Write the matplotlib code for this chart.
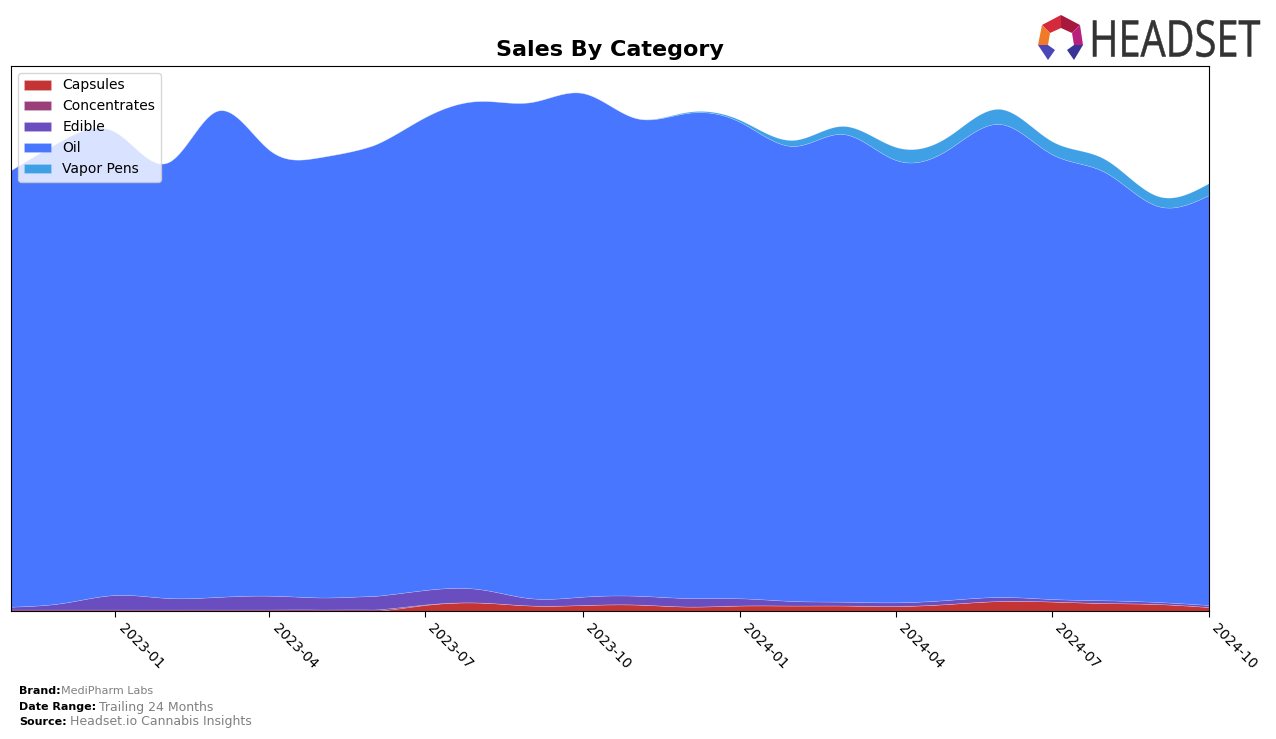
import numpy as np
import pandas as pd
import matplotlib
matplotlib.use("Agg")
import matplotlib.pyplot as plt
import matplotlib.dates as mdates
from matplotlib.textpath import TextPath
from matplotlib.patches import PathPatch, Polygon
from matplotlib.font_manager import FontProperties
from matplotlib.transforms import Affine2D

# ---------------- data ----------------
months = pd.date_range("2022-11-01", "2024-10-01", freq="MS")
categories = ["Capsules", "Concentrates", "Edible", "Oil", "Vapor Pens"]
colors = ["#C43434", "#9B3F7B", "#6A4DBE", "#4876FF", "#3FA0E6"]

capsules = [0, 0, 0, 0, 0, 0, 0, 0, 6, 8.5, 5.5, 6, 6.5, 4.5, 5.5, 5.5, 5.5, 5, 7, 10, 9.5, 8, 7, 4]
concentrates = [1.5, 1.5, 1.5, 1.5, 1.5, 1.5, 1.5, 1.5, 0.5, 0, 0, 0, 0, 0, 0, 0, 0, 0, 0, 0, 0, 0, 0, 0]
edible = [2.8, 6.5, 14.5, 11.5, 12.5, 13.8, 12, 13.5, 14.5, 13.5, 7.2, 8.3, 8.8, 8.5, 7.2, 4.5, 3.8, 3.7, 4, 4, 2.5, 2.7, 2, 2]
vapor_pens = [0, 0, 0, 0, 0, 0, 0, 0, 0, 0, 0, 0, 0, 1, 2, 6, 8, 13, 13, 15, 13, 13, 10, 12]
totals = [441, 471, 479, 449, 500, 461, 454, 466, 494, 510, 509, 518, 493, 499, 491, 471, 485, 464, 474, 502, 470, 452, 415, 428]
oil = [t - c - k - e - v for t, c, k, e, v in zip(totals, capsules, concentrates, edible, vapor_pens)]

tick_dates = pd.to_datetime(["2023-01-01", "2023-04-01", "2023-07-01", "2023-10-01",
                             "2024-01-01", "2024-04-01", "2024-07-01", "2024-10-01"])
tick_labels = [d.strftime("%Y-%m") for d in tick_dates]


def natural_spline(x, y, xs):
    x = np.asarray(x, float); y = np.asarray(y, float)
    n = len(x); h = np.diff(x)
    A = np.zeros((n, n)); r = np.zeros(n)
    A[0, 0] = 1; A[-1, -1] = 1
    for i in range(1, n - 1):
        A[i, i - 1] = h[i - 1]; A[i, i] = 2 * (h[i - 1] + h[i]); A[i, i + 1] = h[i]
        r[i] = 3 * ((y[i + 1] - y[i]) / h[i] - (y[i] - y[i - 1]) / h[i - 1])
    c = np.linalg.solve(A, r)
    b = (y[1:] - y[:-1]) / h - h * (2 * c[:-1] + c[1:]) / 3
    d = (c[1:] - c[:-1]) / (3 * h)
    idx = np.clip(np.searchsorted(x, xs) - 1, 0, n - 2)
    dx = xs - x[idx]
    return y[idx] + b[idx] * dx + c[idx] * dx ** 2 + d[idx] * dx ** 3


# ---------------- figure ----------------
fig = plt.figure(figsize=(12.76, 7.39), dpi=100)
W, H = 1276, 739
ax = fig.add_axes([11 / W, 1 - 611 / H, (1209 - 11) / W, (611 - 66) / H])

xnum = mdates.date2num(months)
xs = np.linspace(xnum[0], xnum[-1], 600)
series = [capsules, concentrates, edible, oil, vapor_pens]
smooth = [np.clip(natural_spline(xnum, s, xs), 0, None) for s in series]

ax.stackplot(xs, *smooth, labels=categories, colors=colors, linewidth=0.4,
             edgecolor="#ffffff40")

ax.set_xlim(xnum[0], xnum[-1])
ax.set_ylim(0, 545)
ax.set_yticks([])
ax.set_xticks(mdates.date2num(tick_dates))
ax.set_xticklabels(tick_labels, rotation=-45, ha="left", fontsize=10)
ax.tick_params(axis="x", length=4, pad=3)

leg = ax.legend(loc="upper left", fontsize=10, framealpha=0.8, borderaxespad=0.5)

fig.text(610 / W, 1 - 50 / H, "Sales By Category", ha="center", va="center",
         fontsize=16, fontweight="bold")

# footer
fig.text(19 / W, 1 - 691 / H, "Brand:", fontsize=8, fontweight="bold", va="center")
fig.text(61 / W, 1 - 691 / H, "MediPharm Labs", fontsize=8, color="gray", va="center")
fig.text(19 / W, 1 - 707 / H, "Date Range:", fontsize=8, fontweight="bold", va="center")
fig.text(99 / W, 1 - 707 / H, "Trailing 24 Months", fontsize=9, color="gray", va="center")
fig.text(19 / W, 1 - 722 / H, "Source:", fontsize=8, fontweight="bold", va="center")
fig.text(70 / W, 1 - 722 / H, "Headset.io Cannabis Insights", fontsize=9, color="gray", va="center")

# logo overlay
ov = fig.add_axes([0, 0, 1, 1], facecolor="none")
ov.set_xlim(0, W); ov.set_ylim(H, 0); ov.axis("off")
tp = TextPath((0, 0), "HEADSET", size=10, prop=FontProperties(family="Open Sans", weight="normal"))
ext = tp.get_extents()
x0, x1, y0, y1 = 1093, 1260, 20, 57
sx = (x1 - x0) / ext.width; sy = (y1 - y0) / ext.height
tr = Affine2D().translate(-ext.x0, -ext.y0).scale(sx, -sy).translate(x0, y1)
ov.add_patch(PathPatch(tr.transform_path(tp), facecolor="#333333", edgecolor="#333333", linewidth=0.4))
polys = [
    ([(1042, 25), (1061, 15), (1061, 28), (1050, 33)], "#D42A3C"),
    ([(1061, 15), (1080, 25), (1072, 33), (1061, 28)], "#A8183C"),
    ([(1080, 25), (1083, 45), (1074, 45), (1072, 33)], "#B8207E"),
    ([(1042, 25), (1050, 33), (1048, 45), (1038, 45)], "#F07A28"),
    ([(1038, 45), (1048, 45), (1055, 50), (1048, 60)], "#4A46B8"),
    ([(1074, 45), (1083, 45), (1074, 60), (1067, 50)], "#3A3498"),
]
for pts, col in polys:
    ov.add_patch(Polygon(pts, closed=True, facecolor=col, edgecolor="none"))

fig.savefig("out.png", dpi=100)
